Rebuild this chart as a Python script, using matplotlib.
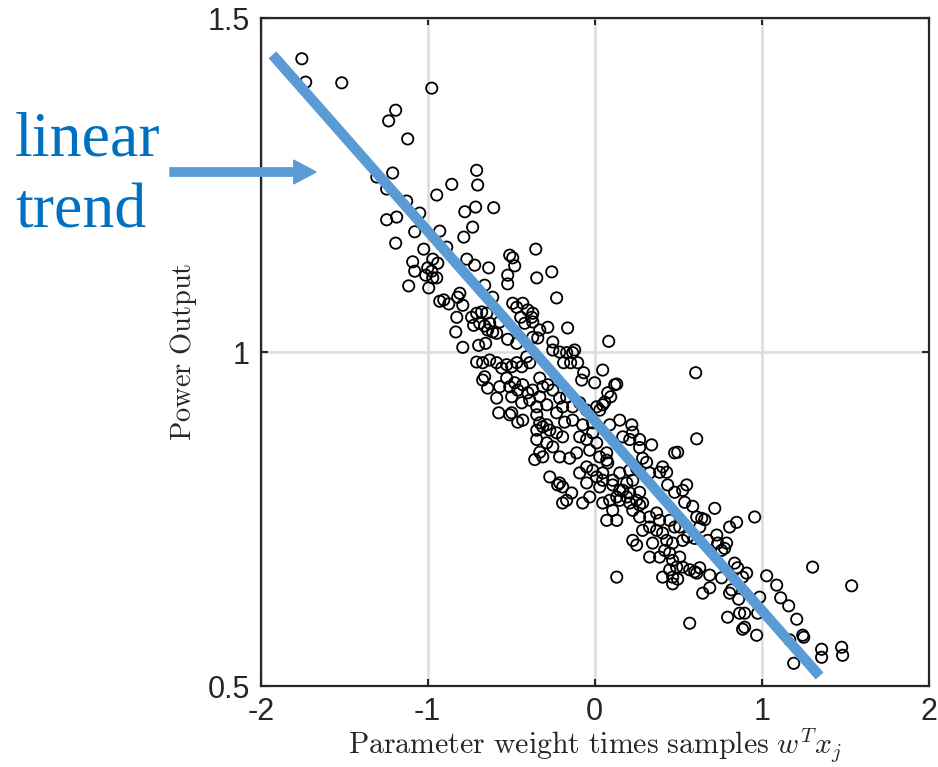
import matplotlib
matplotlib.use("Agg")
import matplotlib.pyplot as plt
import numpy as np

# scatter samples (x = w^T x_j, y = power output)
pts = [
    (-1.754, 1.439), (-1.731, 1.404), (-1.515, 1.403), (-0.976, 1.395), (-1.192, 1.362),
    (-1.234, 1.346), (-1.120, 1.319), (-1.210, 1.268), (-0.856, 1.251), (-0.946, 1.235),
    (-1.126, 1.226), (-1.048, 1.208), (-1.186, 1.202), (-1.246, 1.198), (-1.305, 1.262),
    (-1.246, 1.244), (-0.707, 1.272), (-0.701, 1.250), (-0.778, 1.210), (-0.713, 1.217),
    (-0.605, 1.216), (-0.731, 1.187), (-1.078, 1.180), (-0.928, 1.181), (-0.784, 1.172),
    (-1.192, 1.163), (-1.024, 1.154), (-0.886, 1.157), (-0.353, 1.154), (-0.509, 1.145),
    (-0.491, 1.141), (-0.479, 1.129), (-1.090, 1.135), (-0.970, 1.139), (-0.940, 1.133),
    (-0.766, 1.139), (-0.719, 1.130), (-0.635, 1.126), (-1.078, 1.121), (-1.000, 1.126),
    (-0.976, 1.121), (-1.012, 1.115), (-0.970, 1.111), (-0.946, 1.111), (-0.521, 1.115),
    (-0.347, 1.111), (-1.114, 1.099), (-0.994, 1.096), (-0.521, 1.102), (-0.659, 1.100),
    (-0.808, 1.088), (-0.820, 1.082), (-0.611, 1.082), (-0.928, 1.076), (-0.904, 1.078),
    (-0.874, 1.072), (-0.790, 1.070), (-0.491, 1.073), (-0.431, 1.073), (-0.467, 1.067),
    (-0.401, 1.063), (-0.371, 1.058), (-0.826, 1.052), (-0.737, 1.052), (-0.707, 1.058),
    (-0.677, 1.060), (-0.647, 1.058), (-0.725, 1.040), (-0.689, 1.043), (-0.659, 1.039),
    (-0.629, 1.043), (-0.641, 1.033), (-0.611, 1.030), (-0.587, 1.028), (-0.569, 1.045),
    (-0.443, 1.052), (-0.419, 1.043), (-0.371, 1.045), (-0.377, 1.052), (-0.832, 1.030),
    (-0.521, 1.019), (-0.467, 1.013), (-0.371, 1.022), (-0.341, 1.021), (-0.790, 1.007),
    (-0.695, 1.010), (-0.653, 1.013),
    (-0.257, 1.120), (-0.228, 1.081), (-0.162, 1.036), (0.084, 1.016), (-0.281, 1.037),
    (-0.329, 1.033), (-0.251, 1.015), (-0.210, 1.000), (-0.251, 1.003), (-0.120, 1.003),
    (-0.132, 0.999), (-0.168, 0.999), (-0.186, 0.984), (-0.144, 0.984), (-0.102, 0.984),
    (-0.066, 0.969), (-0.078, 0.958), (0.000, 0.954), (0.048, 0.973), (0.120, 0.951),
    (0.096, 0.933), (0.060, 0.925), (0.048, 0.921), (0.030, 0.913), (-0.707, 0.985),
    (-0.671, 0.984), (-0.629, 0.988), (-0.587, 0.984), (-0.557, 0.976), (-0.527, 0.981),
    (-0.497, 0.978), (-0.467, 0.984), (-0.437, 0.978), (-0.407, 0.993), (-0.389, 0.984),
    (-0.659, 0.963), (-0.671, 0.958), (-0.641, 0.946), (-0.569, 0.948), (-0.527, 0.961),
    (-0.509, 0.948), (-0.479, 0.954), (-0.461, 0.943), (-0.431, 0.951), (-0.401, 0.939),
    (-0.371, 0.943), (-0.329, 0.961), (-0.311, 0.948), (-0.281, 0.951), (-0.251, 0.943),
    (-0.587, 0.931), (-0.497, 0.933), (-0.437, 0.924), (-0.389, 0.928), (-0.329, 0.933),
    (-0.347, 0.918), (-0.287, 0.921), (-0.210, 0.931), (-0.168, 0.933), (-0.192, 0.918),
    (-0.228, 0.909), (-0.132, 0.918), (-0.090, 0.924), (-0.048, 0.913), (0.012, 0.918),
    (-0.575, 0.909), (-0.497, 0.909), (-0.461, 0.895), (-0.431, 0.898), (-0.347, 0.906),
    (-0.329, 0.894), (-0.287, 0.891), (-0.180, 0.895), (-0.132, 0.898), (-0.072, 0.891),
    (-0.012, 0.894), (0.090, 0.891), (-0.509, 0.906), (-0.359, 0.839), (-0.222, 0.801),
    (0.605, 0.969), (0.132, 0.952), (0.078, 0.939), (0.150, 0.898), (0.222, 0.891),
    (0.228, 0.880), (0.168, 0.873), (0.210, 0.869), (0.269, 0.869), (0.341, 0.861),
    (0.269, 0.857), (0.611, 0.870), (0.497, 0.850), (0.479, 0.849), (0.287, 0.841),
    (0.311, 0.835), (0.407, 0.828), (0.389, 0.820), (0.431, 0.820), (0.329, 0.819),
    (0.251, 0.826), (0.210, 0.823), (0.437, 0.801), (0.479, 0.790), (0.551, 0.801),
    (0.527, 0.793), (0.539, 0.775), (0.587, 0.769),
    (-0.347, 0.883), (-0.311, 0.888), (-0.269, 0.883), (-0.228, 0.879), (-0.192, 0.873),
    (-0.347, 0.869), (-0.287, 0.864), (-0.251, 0.858), (-0.329, 0.850), (-0.311, 0.843),
    (-0.210, 0.843), (-0.150, 0.841), (-0.108, 0.849), (-0.090, 0.873), (-0.048, 0.869),
    (-0.012, 0.879), (0.012, 0.864), (-0.030, 0.853), (0.030, 0.843), (0.072, 0.838),
    (-0.269, 0.813), (-0.210, 0.804), (-0.192, 0.798), (-0.138, 0.789), (-0.168, 0.778),
    (-0.192, 0.774), (-0.090, 0.819), (-0.048, 0.828), (-0.012, 0.823), (0.012, 0.813),
    (-0.048, 0.804), (0.048, 0.808), (0.030, 0.798), (0.108, 0.801), (0.150, 0.793),
    (0.132, 0.783), (0.192, 0.783), (0.210, 0.774), (0.251, 0.778), (0.269, 0.771),
    (0.048, 0.774), (0.090, 0.778), (-0.030, 0.783), (-0.072, 0.774),
    (0.611, 0.753), (0.641, 0.751), (0.659, 0.749), (0.719, 0.766), (0.958, 0.753),
    (0.850, 0.745), (0.808, 0.738), (0.509, 0.738), (0.557, 0.723), (0.599, 0.721),
    (0.629, 0.738), (0.731, 0.726), (0.737, 0.714), (0.778, 0.706), (0.677, 0.718),
    (0.838, 0.684), (0.856, 0.677), (0.910, 0.669), (0.886, 0.663), (1.030, 0.665),
    (1.090, 0.651), (0.988, 0.633), (0.689, 0.647), (0.647, 0.639), (0.808, 0.639),
    (0.072, 0.849), (0.078, 0.834), (0.048, 0.819), (0.108, 0.808), (0.150, 0.819),
    (0.192, 0.804), (0.228, 0.808), (0.168, 0.793), (0.210, 0.789), (0.269, 0.790),
    (0.287, 0.774), (0.150, 0.778), (0.108, 0.763), (0.072, 0.748), (0.132, 0.748),
    (0.228, 0.763), (0.269, 0.753), (0.329, 0.753), (0.371, 0.759), (0.389, 0.748),
    (0.329, 0.738), (0.287, 0.733), (0.371, 0.733), (0.407, 0.729), (0.449, 0.748),
    (0.479, 0.738), (0.431, 0.718), (0.467, 0.714), (0.527, 0.718), (0.347, 0.714),
    (0.329, 0.693), (0.389, 0.693), (0.419, 0.703), (0.449, 0.699), (0.467, 0.688),
    (0.509, 0.693), (0.491, 0.678), (0.449, 0.674), (0.407, 0.663), (0.467, 0.663),
    (0.527, 0.678), (0.569, 0.674), (0.611, 0.669), (0.497, 0.660), (0.467, 0.653),
    (0.228, 0.718), (0.251, 0.711), (0.132, 0.663),
    (0.790, 0.714), (0.760, 0.703), (0.689, 0.666), (0.760, 0.662), (0.629, 0.677),
    (0.599, 0.671), (1.114, 0.632), (1.162, 0.620), (1.210, 0.600), (1.305, 0.678),
    (1.539, 0.650), (0.820, 0.644), (0.862, 0.630), (0.898, 0.609), (0.868, 0.609),
    (0.796, 0.603), (0.898, 0.588), (0.886, 0.585), (0.970, 0.576), (0.976, 0.609),
    (1.246, 0.576), (1.252, 0.573), (1.168, 0.569), (1.359, 0.555), (1.359, 0.543),
    (1.479, 0.558), (1.485, 0.546), (1.192, 0.534), (0.569, 0.594),
]
wx = [p[0] for p in pts]
power = [p[1] for p in pts]

# fitted trend line end points
trend_x = [-1.93, 1.347]
trend_y = [1.445, 0.515]

xticks = [-2, -1, 0, 1, 2]
yticks = [0.5, 1, 1.5]

plt.rcParams['mathtext.fontset'] = 'cm'

fig = plt.figure(figsize=(9.38, 7.67), dpi=100)
ax = fig.add_axes([0.278, 0.1056, 0.712, 0.8709])

ax.scatter(wx, power, s=66, facecolors='none', edgecolors='black', linewidths=1.3, zorder=2)
ax.plot(trend_x, trend_y, color='#5b9bd5', lw=7.5, solid_capstyle='butt', zorder=3)

ax.set_xlim(-2, 2)
ax.set_ylim(0.5, 1.5)
ax.set_xticks(xticks)
ax.set_yticks(yticks)
ax.set_xticklabels(['-2', '-1', '0', '1', '2'])
ax.set_yticklabels(['0.5', '1', '1.5'])
ax.grid(True, color='#dcdcdc', lw=1.8)
ax.set_axisbelow(True)
ax.tick_params(direction='in', length=5, width=1.5, top=True, right=True,
               labelsize=22, pad=8, colors='#262626')
for lab in ax.get_xticklabels() + ax.get_yticklabels():
    lab.set_family(['Liberation Sans Narrow', 'Liberation Sans'])
for sp in ax.spines.values():
    sp.set_linewidth(1.6)
    sp.set_color('#262626')

ax.set_xlabel(r'$\mathrm{Parameter\ weight\ times\ samples}\ w^Tx_j$', fontsize=21.5,
              color='#262626', labelpad=0)
ax.set_ylabel(r'$\mathrm{Power\ Output}$', fontsize=20.5, color='#262626', labelpad=6)

# annotation on the left
fig.text(15 / 938, 1 - 155 / 767, 'linear', fontsize=46, family='Liberation Serif',
         color='#0070c0', va='baseline', ha='left')
fig.text(15 / 938, 1 - 228 / 767, 'trend', fontsize=46, family='Liberation Serif',
         color='#0070c0', va='baseline', ha='left')
fig.add_artist(plt.Annotation('', xy=(316 / 938, 1 - 172 / 767), xycoords='figure fraction',
                              xytext=(170 / 938, 1 - 172 / 767), textcoords='figure fraction',
                              arrowprops=dict(color='#5b9bd5', width=6, headwidth=17,
                                              headlength=16, shrink=0)))

fig.savefig('out.png', dpi=100)
